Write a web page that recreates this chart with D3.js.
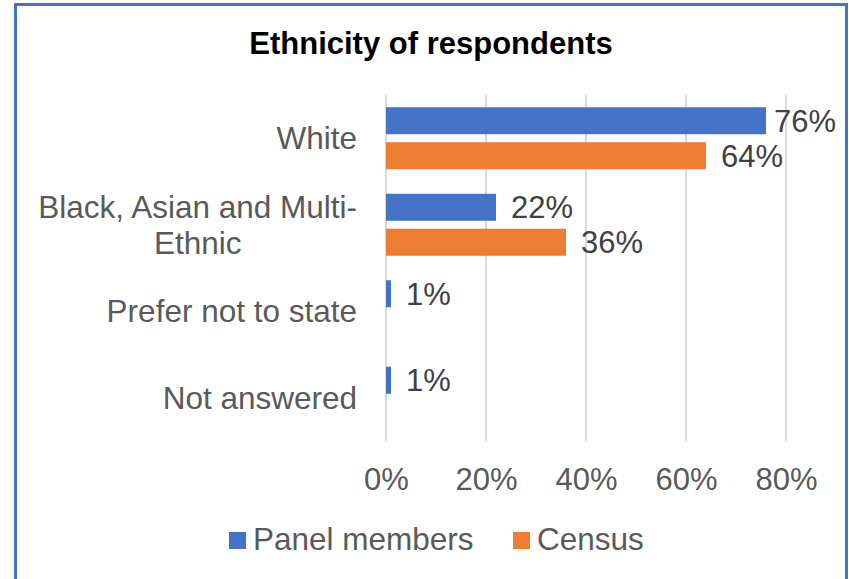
<!DOCTYPE html>
<html>
<head>
<meta charset="utf-8">
<script src="https://cdn.jsdelivr.net/npm/d3@7"></script>
<style>
  html, body { margin: 0; padding: 0; background: #fff; }
  svg { display: block; font-family: "Liberation Sans", Arial, sans-serif; }
</style>
</head>
<body>
<svg id="chart" width="849" height="579"></svg>
<script>
// Categories (label lines) and series values, in percent
const categories = ["White", "Black, Asian and Multi-Ethnic", "Prefer not to state", "Not answered"];
const categoryLines = [["White"], ["Black, Asian and Multi-", "Ethnic"], ["Prefer not to state"], ["Not answered"]];
const seriesNames = ["Panel members", "Census"];
const panelValues = [76, 22, 1, 1];
const censusValues = [64, 36, null, null];
const xTicks = [0, 20, 40, 60, 80];
const seriesColors = ["#4472C4", "#ED7D31"];

const svg = d3.select("#chart");

// Outer frame
svg.append("rect")
  .attr("x", 15.5).attr("y", 4.5)
  .attr("width", 831).attr("height", 600)
  .attr("fill", "#fff")
  .attr("stroke", "#4472C4").attr("stroke-width", 3);

// Title
svg.append("text")
  .attr("x", 431).attr("y", 54)
  .attr("text-anchor", "middle")
  .attr("font-size", 31).attr("font-weight", "bold")
  .attr("fill", "#000")
  .text("Ethnicity of respondents");

const plot = { left: 386, right: 786, top: 95, bottom: 441 };

const x = d3.scaleLinear().domain([0, 80]).range([plot.left, plot.right]);
const y = d3.scaleBand().domain(categories).range([plot.top, plot.bottom]).padding(0);
const yInner = d3.scaleBand().domain(seriesNames).range([0, y.bandwidth()])
  .paddingInner(8 / 35).paddingOuter(0.35);

// Vertical gridlines
svg.append("g")
  .selectAll("line")
  .data(xTicks)
  .join("line")
  .attr("x1", d => x(d)).attr("x2", d => x(d))
  .attr("y1", plot.top).attr("y2", plot.bottom)
  .attr("stroke", "#D9D9D9").attr("stroke-width", 2);

// X axis tick labels
const xAxis = d3.axisBottom(x).tickValues(xTicks).tickFormat(d => d + "%").tickSize(0).tickPadding(0);
const gx = svg.append("g").attr("transform", `translate(0,${plot.bottom})`).call(xAxis);
gx.select(".domain").remove();
gx.selectAll("text")
  .attr("font-family", "'Liberation Sans', Arial, sans-serif")
  .attr("font-size", 31)
  .attr("fill", "#595959")
  .attr("dy", null)
  .attr("y", 49);

// Category labels: each block right-aligned, its lines centred within the block
const catG = svg.append("g");
const labelRight = 357;
categories.forEach((c, i) => {
  const lines = categoryLines[i];
  const cy = y(c) + y.bandwidth() / 2;
  const lh = 36;
  const t = catG.append("text")
    .attr("text-anchor", "middle")
    .attr("font-size", 31.5)
    .attr("fill", "#595959");
  const spans = lines.map((ln, j) => t.append("tspan")
    .attr("y", cy + 11 + (j - (lines.length - 1) / 2) * lh)
    .text(ln));
  const blockW = d3.max(spans, s => s.node().getComputedTextLength());
  spans.forEach(s => s.attr("x", labelRight - blockW / 2));
});

// Bars
const rows = [];
categories.forEach((c, i) => {
  [panelValues[i], censusValues[i]].forEach((v, s) => {
    if (v !== null) rows.push({ cat: c, series: seriesNames[s], value: v, color: seriesColors[s] });
  });
});

svg.append("g")
  .selectAll("rect")
  .data(rows)
  .join("rect")
  .attr("x", x(0))
  .attr("y", d => y(d.cat) + yInner(d.series))
  .attr("width", d => x(d.value) - x(0))
  .attr("height", yInner.bandwidth())
  .attr("fill", d => d.color);

// Value labels, kept inside the chart area
const labels = svg.append("g")
  .selectAll("text")
  .data(rows)
  .join("text")
  .attr("font-size", 31)
  .attr("fill", "#404040")
  .attr("y", d => y(d.cat) + yInner(d.series) + yInner.bandwidth() / 2 + 11)
  .text(d => d.value + "%");
labels.each(function(d) {
  const w = this.getComputedTextLength();
  const px = Math.min(x(d.value) + 15, 836 - w);
  d3.select(this).attr("x", px);
});

// Legend
const legend = svg.append("g");
const legendX = [229, 513];
seriesNames.forEach((name, i) => {
  legend.append("rect")
    .attr("x", legendX[i]).attr("y", 532)
    .attr("width", 17).attr("height", 17)
    .attr("fill", seriesColors[i]);
  legend.append("text")
    .attr("x", legendX[i] + 24).attr("y", 550)
    .attr("font-size", 31.5)
    .attr("fill", "#595959")
    .text(name);
});
</script>
</body>
</html>
